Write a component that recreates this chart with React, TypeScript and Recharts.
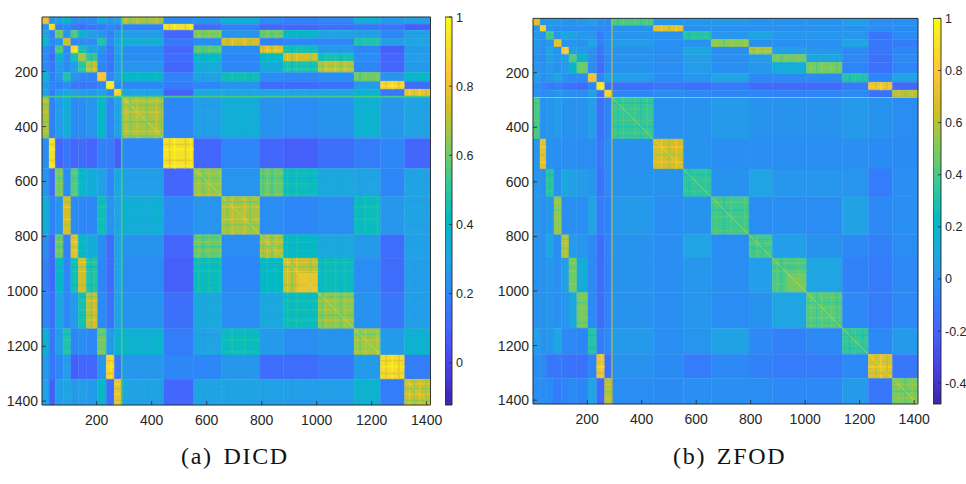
import React from 'react';
import { ComposedChart, XAxis, YAxis, ReferenceArea, ReferenceLine } from 'recharts';

// Block edges along both matrix axes (10 small groups, then 10 large groups)
const blockEdges = [1, 27, 49, 78, 106, 133, 162, 203, 235, 264, 290, 443, 553, 655, 794, 879, 1005, 1136, 1232, 1320, 1414];
const axisTicks = [200, 400, 600, 800, 1000, 1200, 1400];
const matrixDomain = [1, 1414];
const barXDomain = [1, 2];
const noData: any[] = [];
const dicdBarTicks = [1, 0.8, 0.6, 0.4, 0.2, 0];
const zfodBarTicks = [1, 0.8, 0.6, 0.4, 0.2, 0, -0.2, -0.4];
const dicdRange = [-0.122, 1];
const zfodRange = [-0.48, 1];

// Upper triangle of the block-mean similarity matrix, DICD
const dicdUpper = [
  [.8, .25, .3, .4, .22, .22, .22, .36, .27, .29, .68, .22, .25, .35, .22, .18, .2, .35, .27, .29],
  [.92, .18, .2, .15, .12, .15, .17, .2, .17, .18, .93, .12, .18, .1, .1, .13, .15, .15, .08],
  [.62, .25, .55, .38, .28, .25, .18, .28, .28, .1, .62, .25, .6, .4, .31, .29, .2, .29],
  [.72, .2, .22, .22, .47, .22, .32, .35, .15, .22, .74, .18, .2, .2, .47, .28, .31],
  [.88, .45, .29, .25, .15, .29, .22, .1, .55, .22, .76, .44, .27, .2, .08, .27],
  [.68, .5, .2, .15, .27, .22, .12, .4, .2, .41, .74, .45, .22, .1, .28],
  [.7, .2, .15, .27, .25, .1, .34, .2, .34, .47, .7, .2, .1, .27],
  [.85, .2, .29, .4, .18, .29, .44, .22, .2, .22, .6, .25, .39],
  [.95, .2, .2, .17, .2, .25, .12, .12, .14, .27, .88, .12],
  [.9, .3, .08, .32, .3, .3, .3, .3, .37, .15, .8],
  [.68, .2, .28, .35, .24, .22, .24, .37, .26, .3],
  [.92, .1, .2, .1, .08, .13, .17, .2, .1],
  [.64, .25, .58, .43, .32, .3, .2, .3],
  [.68, .22, .2, .22, .43, .26, .3],
  [.68, .41, .32, .27, .12, .29],
  [.72, .43, .22, .12, .28],
  [.64, .24, .15, .28],
  [.66, .27, .37],
  [.9, .17],
  [.72],
];

// Upper triangle of the block-mean similarity matrix, ZFOD
const zfodUpper = [
  [.7, .02, .03, .03, .02, .0, .02, .05, -.02, -.02, .4, .02, .02, .03, 0, 0, 0, .05, -.02, -.02],
  [.85, 0, -.02, -.02, -.03, -.02, -.02, -.05, -.05, 0, .72, 0, -.01, -.01, -.01, 0, 0, -.03, -.03],
  [.4, .02, .1, .06, .03, .02, -.1, -.02, .01, -.01, .33, .02, .09, .02, .02, .02, -.12, -.04],
  [.72, .01, .02, 0, .09, -.08, 0, .04, -.02, 0, .52, -.02, -.02, -.02, .09, -.12, -.1],
  [.78, .05, .03, 0, -.12, -.02, 0, -.02, .1, -.02, .58, .05, .02, -.05, -.12, -.06],
  [.42, .18, -.03, -.14, -.03, 0, -.02, .05, -.02, .04, .48, .1, -.05, -.14, -.04],
  [.46, -.03, -.16, -.03, 0, -.03, .04, -.02, .02, .13, .48, -.06, -.14, -.06],
  [.76, -.06, .06, .05, -.03, .02, .08, -.05, -.05, -.04, .32, -.06, .08],
  [.92, -.14, -.14, -.12, -.14, -.1, -.16, -.16, -.16, -.1, .74, -.18],
  [.86, -.06, -.03, -.05, -.06, -.06, -.08, -.07, -.04, -.14, .6],
  [.36, -.01, 0, .03, 0, 0, 0, .03, 0, -.03],
  [.66, 0, -.02, -.02, -.02, -.02, -.02, -.04, -.04],
  [.34, 0, .08, .02, .02, .01, -.1, -.02],
  [.38, -.03, -.02, -.03, .07, -.05, -.02],
  [.4, .05, 0, -.05, -.08, -.03],
  [.4, .09, -.08, -.1, -.05],
  [.42, -.05, -.1, -.05],
  [.36, -.05, .03],
  [.7, -.12],
  [.48],
];

// Brighter core inside the sixth large group: [from, to, value]
const dicdCore = [933, 1003, .86];
const zfodCore = [933, 1003, .54];
// The bright row and column near index 290: [index, width, value]
const dicdCross = [291, 6, .54];
const zfodCross = [291, 3.6, .64];
// Cross-hatching seen in the blocks: [index, width, strength]
const hatchDicd = [[60, 4, -1], [120, 4, 1], [178, 4, -1], [190, 4, 1], [250, 4, 1],
  [305, 5, 1], [320, 5, -1], [345, 5, 1], [380, 5, -1], [415, 5, 1], [432, 5, -1], [462, 6, -1], [480, 7, 1], [520, 6, -1], [540, 5, 1],
  [568, 5, 1], [585, 5, -1], [606, 5, 1], [645, 5, 1], [672, 6, -1], [690, 6, 1], [735, 6, 1], [756, 5, -1],
  [803, 4, -1], [818, 5, 1], [835, 5, -1], [850, 4, 1], [892, 5, 1], [908, 6, -1], [925, 5, 1], [975, 5, -1],
  [1018, 5, -1], [1032, 5, 1], [1066, 5, 1], [1085, 5, -1], [1102, 5, 1], [1155, 5, -1], [1175, 5, 1], [1218, 5, 1],
  [1250, 5, -1], [1272, 5, 1], [1296, 6, -1], [1335, 5, 1], [1352, 5, -1], [1372, 5, 1], [1395, 5, -1]];
const hatchZfod = [[60, 4, -1], [120, 4, 1], [178, 4, 1], [250, 4, 1],
  [310, 5, -1], [330, 5, 1], [372, 5, 1], [395, 5, -1], [418, 5, 1], [470, 6, 1], [497, 7, -1], [525, 5, 1],
  [572, 5, -1], [590, 5, 1], [632, 5, 1], [672, 5, 1], [700, 6, -1], [726, 5, 1], [776, 5, 1],
  [808, 5, -1], [822, 5, 1], [840, 5, -1], [895, 5, 1], [910, 5, -1], [925, 5, 1], [972, 5, 1],
  [1020, 5, 1], [1040, 5, -1], [1058, 5, 1], [1095, 5, 1], [1115, 5, -1], [1160, 5, -1], [1182, 5, 1], [1208, 5, -1],
  [1258, 5, -1], [1275, 6, 1], [1298, 6, -1], [1340, 5, 1], [1365, 5, -1], [1390, 5, 1]];

const parulaStops: [number, string][] = [
  [0, '#3E26A8'], [6 / 63, '#4741E5'], [12 / 63, '#4563FD'], [18 / 63, '#2D87F7'], [24 / 63, '#20A5E3'],
  [30 / 63, '#02BAC3'], [36 / 63, '#37C897'], [42 / 63, '#81CC59'], [48 / 63, '#D1BF27'], [54 / 63, '#FEC338'],
  [59 / 63, '#F5E327'], [1, '#F9FB15'],
];

const hexRgb = (h: string) => [1, 3, 5].map((i) => parseInt(h.slice(i, i + 2), 16));
function parula(v: number, range: number[]) {
  const t = Math.max(0, Math.min(1, (v - range[0]) / (range[1] - range[0])));
  for (let i = 1; i < parulaStops.length; i++) {
    if (t <= parulaStops[i][0]) {
      const [t0, c0] = parulaStops[i - 1];
      const [t1, c1] = parulaStops[i];
      const f = (t - t0) / (t1 - t0);
      const a = hexRgb(c0);
      const b = hexRgb(c1);
      return `rgb(${a.map((x, k) => Math.round(x + (b[k] - x) * f)).join(',')})`;
    }
  }
  return parulaStops[parulaStops.length - 1][1];
}

const FONT = '"Liberation Sans", Arial, sans-serif';
const INK = '#262626';

function BottomTick({ x, y, payload }: any) {
  return (
    <g>
      <line x1={x} x2={x} y1={y} y2={y - 4} stroke={INK} strokeWidth={0.8} />
      <text x={x} y={y + 20} textAnchor="middle" fontFamily={FONT} fontSize={14} fill={INK}>{payload.value}</text>
    </g>
  );
}
function TopTick({ x, y }: any) {
  return <line x1={x} x2={x} y1={y} y2={y + 4} stroke={INK} strokeWidth={0.8} />;
}
function LeftTick({ x, y, payload }: any) {
  return (
    <g>
      <line x1={x} x2={x + 4} y1={y} y2={y} stroke={INK} strokeWidth={0.8} />
      <text x={x - 4} y={y + 5} textAnchor="end" fontFamily={FONT} fontSize={14} fill={INK}>{payload.value}</text>
    </g>
  );
}
function RightTick({ x, y }: any) {
  return <line x1={x} x2={x - 4} y1={y} y2={y} stroke={INK} strokeWidth={0.8} />;
}
function BarTick({ x, y, payload }: any) {
  return (
    <g>
      <line x1={x} x2={x - 3} y1={y} y2={y} stroke={INK} strokeWidth={0.8} />
      <text x={x + 4} y={y + 4.5} fontFamily={FONT} fontSize={12.5} fill={INK}>{payload.value}</text>
    </g>
  );
}
const bottomTick = <BottomTick />;
const topTick = <TopTick />;
const leftTick = <LeftTick />;
const rightTick = <RightTick />;
const barTick = <BarTick />;

function Heat({ left, top, size, upper, range, core, cross, hatch }: any) {
  const n = blockEdges.length - 1;
  const cell = (i: number, j: number) => (i <= j ? upper[i][j - i] : upper[j][i - j]);
  const blockOf = (p: number) => { let b = 0; while (b < n - 1 && p >= blockEdges[b + 1]) b++; return b; };
  const cells: any[] = [];
  const strands: any[] = [];
  for (let i = 0; i < n; i++) {
    for (let j = 0; j < n; j++) {
      const fill = parula(cell(i, j), range);
      cells.push(
        <ReferenceArea key={`c${i}-${j}`} x1={blockEdges[j]} x2={blockEdges[j + 1]} y1={blockEdges[i]} y2={blockEdges[i + 1]}
          fill={fill} fillOpacity={1} stroke={fill} strokeWidth={0.4} />,
      );
    }
  }
  const floor = range[0] < -0.2 ? 0.02 : 0.2;
  hatch.forEach(([at, w, s]: number[], k: number) => {
    const home = blockOf(at);
    for (let i = 0; i < n; i++) {
      const v = cell(i, home);
      const lift = Math.max(0, v - floor);
      if (lift < 0.08) continue;
      const fill = parula(v + s * (0.012 + 0.2 * lift), range);
      strands.push(<ReferenceArea key={`hx${k}-${i}`} x1={at} x2={at + w} y1={blockEdges[i]} y2={blockEdges[i + 1]} fill={fill} fillOpacity={0.65} stroke="none" />);
      strands.push(<ReferenceArea key={`hy${k}-${i}`} x1={blockEdges[i]} x2={blockEdges[i + 1]} y1={at} y2={at + w} fill={fill} fillOpacity={0.65} stroke="none" />);
    }
  });
  return (
    <div style={{ position: 'absolute', left: 0, top: 0 }}>
      <ComposedChart width={left + size.w + 16} height={top + size.h + 40} data={noData}
        margin={{ left: 0, top, right: 16, bottom: 0 }}>
        {cells}
        {strands}
        <ReferenceArea x1={core[0]} x2={core[1]} y1={core[0]} y2={core[1]} fill={parula(core[2], range)} fillOpacity={0.6} stroke="none" />
        {blockEdges.slice(10, -1).map((e, k) => (
          <ReferenceLine key={`d${k}`} segment={[{ x: e, y: e }, { x: blockEdges[10 + k + 1], y: blockEdges[10 + k + 1] }]}
            stroke={parula(.95, range)} strokeOpacity={0.4} strokeWidth={1} />
        ))}
        <ReferenceArea x1={cross[0] - cross[1] / 2} x2={cross[0] + cross[1] / 2} y1={1} y2={1414} fill={parula(cross[2], range)} fillOpacity={1} stroke="none" />
        <ReferenceArea x1={1} x2={1414} y1={cross[0] - cross[1] / 2} y2={cross[0] + cross[1] / 2} fill={parula(cross[2], range)} fillOpacity={1} stroke="none" />
        <ReferenceArea x1={1} x2={1414} y1={1} y2={1414} fill="none" stroke={INK} strokeWidth={0.9} />
        <XAxis xAxisId={0} type="number" dataKey="x" domain={matrixDomain} allowDataOverflow ticks={axisTicks} height={40} interval={0}
          axisLine={false} tickLine={false} tickSize={0} tickMargin={0} tick={bottomTick} />
        <XAxis xAxisId="t" orientation="top" type="number" domain={matrixDomain} allowDataOverflow ticks={axisTicks} height={0} interval={0}
          axisLine={false} tickLine={false} tickSize={0} tickMargin={0} tick={topTick} />
        <YAxis yAxisId={0} type="number" reversed domain={matrixDomain} allowDataOverflow ticks={axisTicks} width={left} interval={0}
          axisLine={false} tickLine={false} tickSize={0} tickMargin={0} tick={leftTick} />
        <YAxis yAxisId="r" orientation="right" type="number" reversed domain={matrixDomain} allowDataOverflow ticks={axisTicks} width={0} interval={0}
          axisLine={false} tickLine={false} tickSize={0} tickMargin={0} tick={rightTick} />
      </ComposedChart>
    </div>
  );
}

function ColorBar({ left, top, w, h, range, ticks }: any) {
  const steps = 64;
  const span = range[1] - range[0];
  const slices = Array.from({ length: steps }, (_, i) => range[0] + (span * i) / steps);
  return (
    <div style={{ position: 'absolute', left, top: 0 }}>
      <ComposedChart width={w + 34} height={top + h + 40} data={noData} margin={{ left: 0, top, right: 0, bottom: 0 }}>
        {slices.map((s, i) => (
          <ReferenceArea key={i} x1={1} x2={2} y1={s} y2={Math.min(range[1], s + (span / steps) * 1.3)}
            fill={parula(s + span / steps / 2, range)} fillOpacity={1} stroke="none" />
        ))}
        <ReferenceArea x1={1} x2={2} y1={range[0]} y2={range[1]} fill="none" stroke={INK} strokeWidth={0.9} />
        <XAxis type="number" dataKey="x" domain={barXDomain} allowDataOverflow height={40} axisLine={false} tickLine={false} tick={false} />
        <YAxis type="number" orientation="right" domain={range} allowDataOverflow ticks={ticks} width={34} interval={0}
          axisLine={false} tickLine={false} tickSize={0} tickMargin={0} tick={barTick} />
      </ComposedChart>
    </div>
  );
}

const captionStyle = (left: number): React.CSSProperties => ({
  position: 'absolute', left, top: 443, fontFamily: '"Liberation Serif", serif', fontSize: 24, letterSpacing: 1.7,
  wordSpacing: 3, color: '#111', whiteSpace: 'nowrap',
});

export default function App() {
  return (
    <div style={{ position: 'absolute', left: 0, top: 0, width: 966, height: 484, background: '#fff', overflow: 'hidden' }}>
      <Heat left={42} top={17} size={{ w: 388.5, h: 388 }} upper={dicdUpper} range={dicdRange} core={dicdCore} cross={dicdCross} hatch={hatchDicd} />
      <ColorBar left={445} top={17} w={7} h={388} range={dicdRange} ticks={dicdBarTicks} />
      <div style={{ position: 'absolute', left: 491, top: 0 }}>
        <Heat left={42} top={18.4} size={{ w: 385, h: 385.6 }} upper={zfodUpper} range={zfodRange} core={zfodCore} cross={zfodCross} hatch={hatchZfod} />
      </div>
      <ColorBar left={933} top={18.4} w={8} h={385.6} range={zfodRange} ticks={zfodBarTicks} />
      <div style={captionStyle(181)}>(a) DICD</div>
      <div style={captionStyle(673)}>(b) ZFOD</div>
    </div>
  );
}
